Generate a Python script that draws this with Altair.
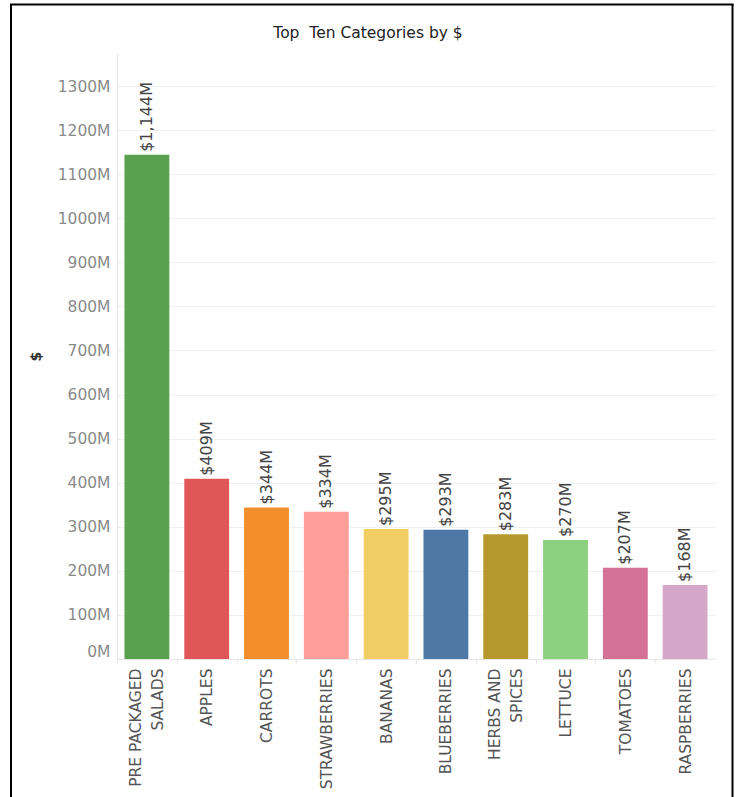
import altair as alt
import pandas as pd

categories = ["PRE PACKAGED SALADS", "APPLES", "CARROTS", "STRAWBERRIES", "BANANAS",
              "BLUEBERRIES", "HERBS AND SPICES", "LETTUCE", "TOMATOES", "RASPBERRIES"]
values_m = [1144, 409, 344, 334, 295, 293, 283, 270, 207, 168]
colors = ["#59A14F", "#E15759", "#F28E2B", "#FF9D9A", "#F1CE63",
          "#4E79A7", "#B6992D", "#8CD17D", "#D37295", "#D4A6C8"]
y_ticks = list(range(0, 1400, 100))
title_text = "Top\u00a0 Ten Categories by $"

df = pd.DataFrame({"cat": categories, "val": values_m})
FONT = "DejaVu Sans"
two_line = "datum.label == 'PRE PACKAGED SALADS' || datum.label == 'HERBS AND SPICES'"

x_enc = alt.X("cat:N", sort=categories,
              scale=alt.Scale(paddingInner=0.25, paddingOuter=0.125),
              axis=alt.Axis(title=None, labelAngle=-90, labelFont=FONT, labelFontSize=15.5,
                            labelColor="#555555", labelLimit=300, labelLineHeight=22,
                            labelPadding=5, tickOffset=-29.9,
                            labelOffset={"condition": {"test": two_line, "value": 18.9}, "value": 29.9},
                            tickColor="#e6e6e6", tickSize=4, domainColor="#e6e6e6",
                            grid=False,
                            labelExpr="datum.label == 'PRE PACKAGED SALADS' ? ['PRE PACKAGED', 'SALADS'] : datum.label == 'HERBS AND SPICES' ? ['HERBS AND', 'SPICES'] : datum.label"))
y_enc = alt.Y("val:Q", scale=alt.Scale(domain=[0, 1375], nice=False),
              axis=alt.Axis(title="$", titleFont=FONT, titleFontSize=14, titleColor="#333333",
                            titleFontWeight="bold", titlePadding=14,
                            values=y_ticks, labelExpr="datum.value + 'M'",
                            labelFont=FONT, labelFontSize=15.5, labelColor="#8a8a8a",
                            labelPadding=7, ticks=False, domainColor="#e6e6e6",
                            gridColor="#f0f0f0", labelFlush=True))

bars = alt.Chart(df).mark_bar().encode(
    x=x_enc, y=y_enc,
    color=alt.Color("cat:N", sort=categories,
                    scale=alt.Scale(domain=categories, range=colors), legend=None))

labels = alt.Chart(df).mark_text(angle=270, align="left", baseline="middle", yOffset=-3,
                                 font=FONT, fontSize=16, color="#444444").encode(
    x=alt.X("cat:N", sort=categories), y="val:Q",
    text=alt.Text("lbl:N")).transform_calculate(
    lbl="'$' + format(datum.val, ',') + 'M'")

one = pd.DataFrame({"t": [title_text]})
title = alt.Chart(one).mark_text(font=FONT, fontSize=15.5, fontWeight="normal", color="#222222",
                                 align="center", baseline="middle").encode(
    x=alt.value(251), y=alt.value(-20), text="t:N")
frame_left = alt.Chart(one).mark_rule(color="black", strokeWidth=2).encode(
    x=alt.value(-106), y=alt.value(-49), y2=alt.value(800))
frame_right = alt.Chart(one).mark_rule(color="black", strokeWidth=2).encode(
    x=alt.value(615.5), y=alt.value(-49), y2=alt.value(800))
frame_top = alt.Chart(one).mark_rule(color="black", strokeWidth=2).encode(
    x=alt.value(-107), x2=alt.value(616.5), y=alt.value(-48.5))

chart = alt.layer(bars, labels, title, frame_left, frame_right, frame_top).properties(
    width=598, height=606,
    autosize=alt.AutoSizeParams(type="none"),
    padding={"left": 117, "top": 53, "right": 25, "bottom": 138},
).configure(background="white").configure_view(stroke=None)

chart.save("out.html", embed_options={"renderer": "svg", "actions": False})
